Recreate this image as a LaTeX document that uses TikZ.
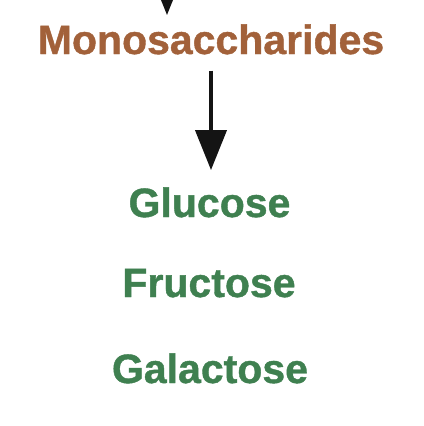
\documentclass[tikz,border=0pt]{standalone}
\usepackage{fontspec}
\setmainfont{Liberation Sans}
\newfontfamily\lblfont{Liberation Sans Bold}[FakeBold=1]
\usetikzlibrary{arrows.meta}
\definecolor{brownc}{HTML}{A2613A}
\definecolor{greenc}{HTML}{3F8050}
\tikzset{
  lbl/.style={font=\lblfont\fontsize{41bp}{48bp}\selectfont, inner sep=0pt, anchor=base},
  arr/.style={line width=4bp, black!92, -{Triangle[width=31bp,length=40bp]}}
}
\begin{document}
\begin{tikzpicture}[x=1bp,y=1bp]
\clip (0,0) rectangle (424,426);
\fill[white] (0,0) rectangle (424,426);
\node[lbl, text=brownc] (mono) at (211,372) {Monosaccharides};
\node[lbl, text=greenc] (glu) at (209.5,209) {Glucose};
\node[lbl, text=greenc] (fru) at (209,129) {Fructose};
\node[lbl, text=greenc] (gal) at (210,43) {Galactose};
\coordinate (topstart) at (167,480);
\draw[arr] (topstart) -- ([yshift=9bp]mono.north -| topstart);
\draw[arr, shorten <=16bp, shorten >=17bp] (mono.south) -- (mono.south |- glu.north);
\end{tikzpicture}
\end{document}
